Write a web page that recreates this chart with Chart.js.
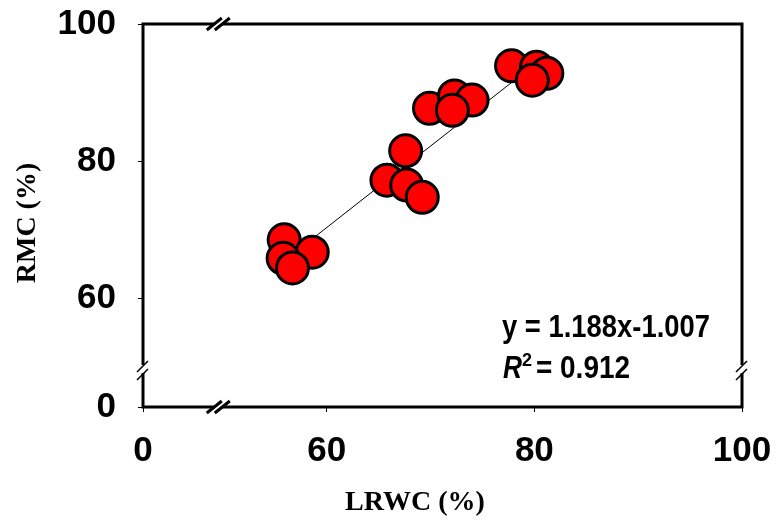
<!DOCTYPE html>
<html>
<head>
<meta charset="utf-8">
<script src="https://cdn.jsdelivr.net/npm/chart.js@4.4.1/dist/chart.umd.min.js"></script>
<style>
  html, body { margin: 0; padding: 0; background: #fff; }
  #wrap { width: 778px; height: 526px; }
</style>
</head>
<body>
<div id="wrap"><canvas id="rmcChart" width="778" height="526"></canvas></div>
<script>
// LRWC (%) vs RMC (%) readings
const lrwc = [55.9, 58.6, 55.8, 56.7, 67.6, 65.8, 67.7, 69.2, 69.9, 72.3, 74.0, 72.1, 77.8, 80.2, 81.2, 79.8];
const rmc  = [68.5, 66.7, 65.8, 64.4, 81.5, 77.2, 76.5, 74.7, 87.7, 89.5, 88.9, 87.4, 93.9, 93.7, 92.8, 91.8];

// trend line ends, as seen in the picture
const trendX = [55.8, 81.2];
const trendY = [65.3, 95.5];

const xTickLabels = ['0', '60', '80', '100'];
const yTickLabels = ['0', '60', '80', '100'];
const equationText = 'y = 1.188x-1.007';
const r2Value = '0.912';

// axes are broken: the "0" tick sits at these values
const X_ZERO_AT = 42.3;
const Y_ZERO_AT = 44.1;
const xTickVals = [X_ZERO_AT, 60, 80, 100];
const yTickVals = [Y_ZERO_AT, 60, 80, 100];

const tickFont = { family: 'Liberation Sans, Arial, sans-serif', size: 35, weight: 'bold' };

// keep the plot frame where the reference has it
function noPadding(scale) {
    scale.paddingTop = 0;
    scale.paddingBottom = 0;
    scale.paddingLeft = 0;
    scale.paddingRight = 0;
}

const decorations = {
    id: 'decorations',
    beforeDatasetsDraw(chart) {
        const { ctx, chartArea: a } = chart;
        ctx.save();
        ctx.strokeStyle = '#000';
        ctx.lineWidth = 3;
        ctx.strokeRect(a.left, a.top, a.right - a.left, a.bottom - a.top);
        ctx.restore();
    },
    afterDraw(chart) {
        const { ctx, chartArea: a, scales } = chart;
        ctx.save();

        // break marks on the x axis (top and bottom edges)
        const bx = scales.x.getPixelForValue(49.6);
        [a.top, a.bottom].forEach(function (y) {
            ctx.fillStyle = '#fff';
            ctx.beginPath();
            ctx.moveTo(bx - 8, y + 6); ctx.lineTo(bx - 1, y - 6);
            ctx.lineTo(bx + 7, y - 6); ctx.lineTo(bx, y + 6);
            ctx.closePath(); ctx.fill();
            ctx.strokeStyle = '#000';
            ctx.lineWidth = 3;
            ctx.beginPath();
            ctx.moveTo(bx - 12, y + 6); ctx.lineTo(bx + 3, y - 6);
            ctx.moveTo(bx - 4, y + 6); ctx.lineTo(bx + 11, y - 6);
            ctx.stroke();
        });

        // break marks on the y axis (left and right edges)
        const by = scales.y.getPixelForValue(49.5);
        [a.left, a.right].forEach(function (x) {
            ctx.fillStyle = '#fff';
            ctx.fillRect(x - 2, by - 5, 4, 8);
            ctx.strokeStyle = '#000';
            ctx.lineWidth = 1.5;
            ctx.beginPath();
            ctx.moveTo(x - 6, by + 2); ctx.lineTo(x + 5, by - 9);
            ctx.moveTo(x - 6, by + 10); ctx.lineTo(x + 5, by - 1);
            ctx.stroke();
        });

        // axis titles
        ctx.fillStyle = '#000';
        ctx.font = 'bold 28px "Liberation Serif", "Times New Roman", serif';
        ctx.textAlign = 'center';
        ctx.textBaseline = 'middle';
        ctx.fillText('LRWC (%)', 415, 503);
        ctx.save();
        ctx.translate(28, 223);
        ctx.rotate(-Math.PI / 2);
        ctx.fillText('RMC (%)', 0, 0);
        ctx.restore();

        // regression equation
        ctx.textAlign = 'left';
        ctx.textBaseline = 'alphabetic';
        ctx.font = 'bold 31px "Liberation Sans", Arial, sans-serif';
        ctx.fillText(equationText, 502, 337, 208);
        ctx.font = 'italic bold 31px "Liberation Sans", Arial, sans-serif';
        ctx.fillText('R', 503, 378, 19);
        ctx.font = 'bold 18px "Liberation Sans", Arial, sans-serif';
        ctx.fillText('2', 522, 366);
        ctx.font = 'bold 31px "Liberation Sans", Arial, sans-serif';
        ctx.fillText('= ' + r2Value, 536, 378, 94);
        ctx.restore();
    }
};

const ctx = document.getElementById('rmcChart').getContext('2d');
const rmcChart = new Chart(ctx, {
    type: 'scatter',
    data: {
        datasets: [{
            label: 'RMC',
            data: lrwc.map((x, i) => ({ x: x, y: rmc[i] })),
            backgroundColor: '#ff0000',
            borderColor: '#000',
            borderWidth: 3,
            pointRadius: 16,
            pointHoverRadius: 16,
            order: 1
        }, {
            label: 'Trend',
            type: 'line',
            data: trendX.map((x, i) => ({ x: x, y: trendY[i] })),
            borderColor: '#000',
            borderWidth: 1,
            pointRadius: 0,
            fill: false,
            order: 2
        }]
    },
    options: {
        responsive: false,
        animation: false,
        layout: { padding: { left: 0, top: 24, right: 36, bottom: 0 } },
        plugins: {
            legend: { display: false },
            tooltip: { enabled: false }
        },
        scales: {
            x: {
                type: 'linear',
                min: X_ZERO_AT,
                max: 100,
                afterBuildTicks: function (scale) {
                    scale.ticks = xTickVals.map(v => ({ value: v }));
                },
                afterFit: function (scale) { scale.height = 119; noPadding(scale); },
                ticks: {
                    font: tickFont,
                    color: '#000',
                    padding: 18,
                    maxRotation: 0,
                    callback: function (value) {
                        return xTickLabels[xTickVals.indexOf(value)];
                    }
                },
                grid: { drawOnChartArea: false, drawTicks: true, tickLength: 5, color: '#000', lineWidth: 1 },
                border: { display: false }
            },
            y: {
                type: 'linear',
                min: Y_ZERO_AT,
                max: 100,
                afterBuildTicks: function (scale) {
                    scale.ticks = yTickVals.map(v => ({ value: v }));
                },
                afterFit: function (scale) { scale.width = 143; noPadding(scale); },
                ticks: {
                    font: tickFont,
                    color: '#000',
                    padding: 22,
                    callback: function (value) {
                        return yTickLabels[yTickVals.indexOf(value)];
                    }
                },
                grid: { drawOnChartArea: false, drawTicks: true, tickLength: 5, color: '#000', lineWidth: 1 },
                border: { display: false }
            }
        }
    },
    plugins: [decorations]
});
</script>
</body>
</html>
